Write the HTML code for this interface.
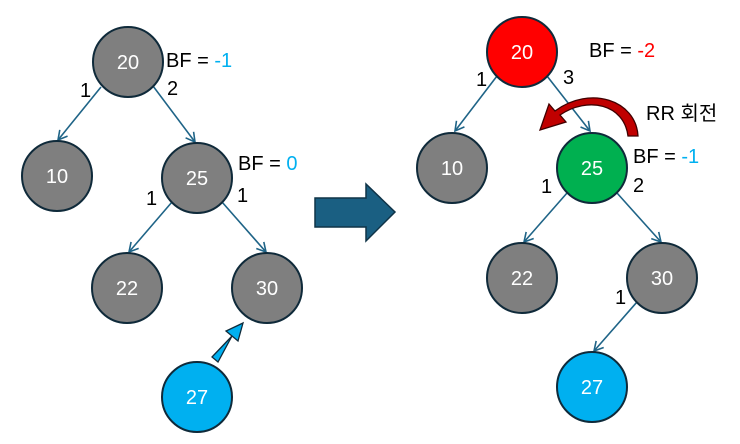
<!DOCTYPE html>
<html><head><meta charset="utf-8"><style>
html,body{margin:0;padding:0;background:#fff;}
svg{display:block;}
text{font-family:"Liberation Sans","Noto Sans CJK KR",sans-serif;}
.n{fill:#fff;font-size:20px;text-anchor:middle;dominant-baseline:central;}
.l{font-size:20px;fill:#000;}
</style></head><body>
<svg width="740" height="444" viewBox="0 0 740 444" xmlns="http://www.w3.org/2000/svg">
<defs>
<marker id="a" markerWidth="12" markerHeight="12" refX="10" refY="6" orient="auto" markerUnits="userSpaceOnUse">
<path d="M1,1 L10,6 L1,11" fill="none" stroke="#1f6487" stroke-width="1.6"/>
</marker>
</defs>
<g stroke="#1f6487" stroke-width="1.6" fill="none" marker-end="url(#a)">
<line x1="101" y1="87" x2="58" y2="140"/>
<line x1="153" y1="86" x2="195" y2="142"/>
<line x1="172" y1="202" x2="129" y2="252"/>
<line x1="222" y1="202" x2="266" y2="252"/>
<line x1="497" y1="76" x2="455" y2="131"/>
<line x1="547" y1="76" x2="590" y2="131"/>
<line x1="567" y1="193" x2="524" y2="242"/>
<line x1="617" y1="193" x2="661" y2="242"/>
<line x1="637" y1="302" x2="594" y2="351"/>
</g>
<g stroke="#0f2a3a" stroke-width="2">
<circle cx="128" cy="62" r="35" fill="#7f7f7f"/>
<circle cx="57" cy="176" r="35" fill="#7f7f7f"/>
<circle cx="197" cy="178" r="35" fill="#7f7f7f"/>
<circle cx="127" cy="288" r="35" fill="#7f7f7f"/>
<circle cx="267" cy="288" r="35" fill="#7f7f7f"/>
<circle cx="197" cy="397" r="35" fill="#00b0f0"/>
<circle cx="522" cy="52" r="35" fill="#ff0000"/>
<circle cx="452" cy="168" r="35" fill="#7f7f7f"/>
<circle cx="592" cy="168" r="35" fill="#00b050"/>
<circle cx="522" cy="278" r="35" fill="#7f7f7f"/>
<circle cx="662" cy="278" r="35" fill="#7f7f7f"/>
<circle cx="592" cy="387" r="35" fill="#00b0f0"/>
</g>
<text class="n" x="128" y="63">20</text>
<text class="n" x="57" y="177">10</text>
<text class="n" x="197" y="179">25</text>
<text class="n" x="127" y="289">22</text>
<text class="n" x="267" y="289">30</text>
<text class="n" x="197" y="398">27</text>
<text class="n" x="522" y="53">20</text>
<text class="n" x="452" y="169">10</text>
<text class="n" x="592" y="169">25</text>
<text class="n" x="522" y="279">22</text>
<text class="n" x="662" y="279">30</text>
<text class="n" x="592" y="388">27</text>
<text class="l" x="166" y="67">BF = <tspan fill="#00b0f0">-1</tspan></text>
<text class="l" x="80" y="97">1</text>
<text class="l" x="167" y="95">2</text>
<text class="l" x="238" y="170">BF = <tspan fill="#00b0f0">0</tspan></text>
<text class="l" x="146" y="205">1</text>
<text class="l" x="237" y="202">1</text>
<text class="l" x="589" y="57">BF = <tspan fill="#ff0000">-2</tspan></text>
<text class="l" x="476" y="86">1</text>
<text class="l" x="563" y="84" fill="#ff0000">3</text>
<text class="l" x="633" y="163">BF = <tspan fill="#00b0f0">-1</tspan></text>
<text class="l" x="541" y="193">1</text>
<text class="l" x="633" y="192" fill="#00b0f0">2</text>
<text class="l" x="615" y="304" fill="#00b0f0">1</text>
<text class="l" x="646" y="120" fill="#ff0000">RR 회전</text>
<path d="M315,198 L366,198 L366,184 L395,212 L366,241 L366,227 L315,227 Z" fill="#1a5f82" stroke="#0f3347" stroke-width="1.5"/>
<path d="M212,357 L232,336 L226,331 L243,323 L238,341 L232,336 L218,362 Z" fill="#00b0f0" stroke="#0f2a3a" stroke-width="1.3"/>
<path d="M628,136 L638,136 C636,100 590,85 555,111 L549,104 L540,130 L566,122 L560,115 C588,96 624,104 628,136 Z" fill="#c00000" stroke="#400000" stroke-width="1.3"/>
</svg>
</body></html>
